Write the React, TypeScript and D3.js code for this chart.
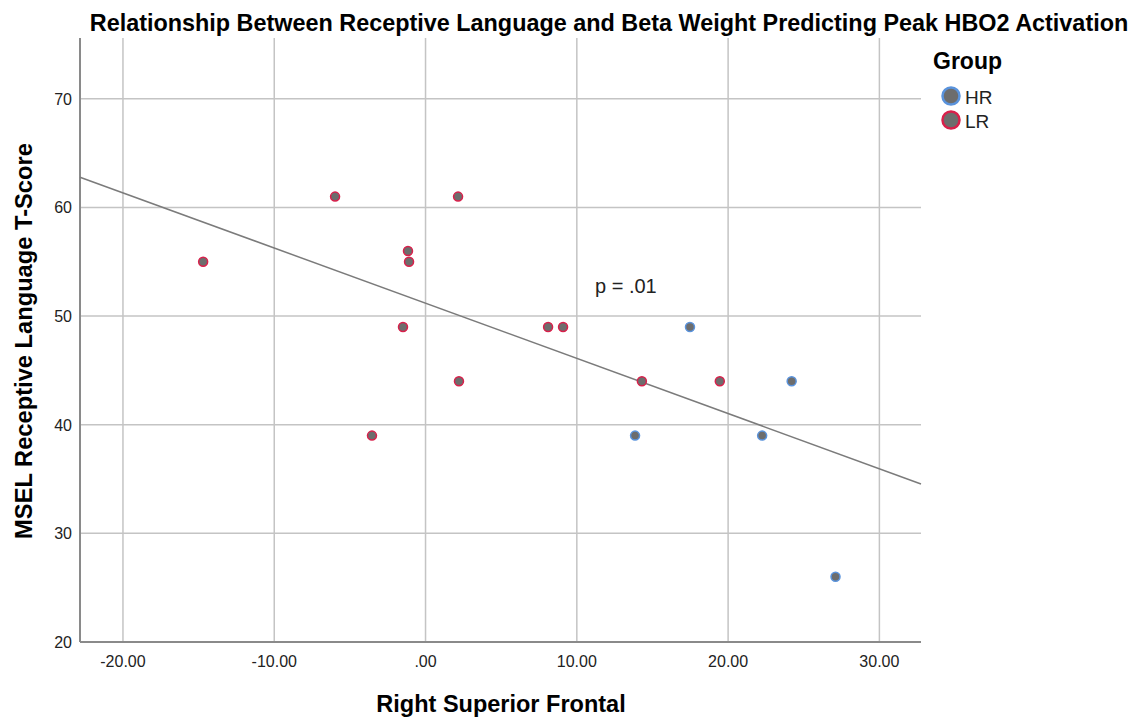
import React, { useEffect, useRef } from 'react';
import * as d3 from 'd3';

// values
const groups = ['HR', 'LR'];
const lrX = [-14.7, -5.98, 2.15, -1.16, -1.09, -1.49, 2.21, -3.54, 8.1, 9.09, 14.3, 19.45];
const lrY = [55, 61, 61, 56, 55, 49, 44, 39, 49, 49, 44, 44];
const hrX = [17.48, 13.85, 22.25, 24.2, 27.1];
const hrY = [49, 39, 39, 44, 26];
const xTicks = [-20, -10, 0, 10, 20, 30];
const yTicks = [20, 30, 40, 50, 60, 70];

const W = 1143;
const H = 717;
const FONT = '"Liberation Sans", Arial, sans-serif';

const fmtX = (v: number) => {
  const s = v.toFixed(2);
  if (s.startsWith('0')) return s.slice(1);
  return s;
};

const App = () => {
  const ref = useRef<SVGSVGElement>(null);

  useEffect(() => {
    if (!ref.current) return;
    const svg = d3.select(ref.current);
    svg.selectAll('*').remove();

    const left = 80, right = 921, top = 38, bottom = 642;

    const x = d3.scaleLinear().domain([-22.84, 32.75]).range([left, right]);
    const y = d3.scaleLinear().domain([20, 75.6]).range([bottom, top]);

    const pts = [
      ...lrX.map((v, i) => ({ x: v, y: lrY[i], g: 'LR' })),
      ...hrX.map((v, i) => ({ x: v, y: hrY[i], g: 'HR' })),
    ];

    const stroke: Record<string, string> = { HR: '#5a93dc', LR: '#d9204b' };

    // grid
    svg.append('g')
      .selectAll('line')
      .data(xTicks)
      .enter().append('line')
      .attr('x1', d => x(d)).attr('x2', d => x(d))
      .attr('y1', top).attr('y2', bottom)
      .attr('stroke', '#c4c4c4').attr('stroke-width', 1.5);

    svg.append('g')
      .selectAll('line')
      .data(yTicks.filter(d => d > 20))
      .enter().append('line')
      .attr('x1', left).attr('x2', right)
      .attr('y1', d => y(d)).attr('y2', d => y(d))
      .attr('stroke', '#c4c4c4').attr('stroke-width', 1.5);

    // axes lines
    svg.append('line')
      .attr('x1', left).attr('x2', left).attr('y1', top).attr('y2', bottom)
      .attr('stroke', '#8a8a8a').attr('stroke-width', 2);
    svg.append('line')
      .attr('x1', left).attr('x2', right).attr('y1', bottom).attr('y2', bottom)
      .attr('stroke', '#8a8a8a').attr('stroke-width', 2);

    // tick labels
    svg.append('g')
      .selectAll('text')
      .data(xTicks)
      .enter().append('text')
      .attr('x', d => x(d)).attr('y', 667)
      .attr('text-anchor', 'middle')
      .attr('font-family', FONT).attr('font-size', 16).attr('fill', '#222')
      .text(d => fmtX(d));

    svg.append('g')
      .selectAll('text')
      .data(yTicks)
      .enter().append('text')
      .attr('x', 72).attr('y', d => y(d) + 6)
      .attr('text-anchor', 'end')
      .attr('font-family', FONT).attr('font-size', 16).attr('fill', '#222')
      .text(d => d);

    // regression line (least squares on all points)
    const mx = d3.mean(pts, d => d.x) as number;
    const my = d3.mean(pts, d => d.y) as number;
    const sxy = d3.sum(pts, d => (d.x - mx) * (d.y - my));
    const sxx = d3.sum(pts, d => (d.x - mx) ** 2);
    const slope = sxy / sxx;
    const icpt = my - slope * mx;
    const [x0, x1] = x.domain();
    svg.append('line')
      .attr('x1', x(x0)).attr('y1', y(icpt + slope * x0))
      .attr('x2', x(x1)).attr('y2', y(icpt + slope * x1))
      .attr('stroke', '#7b7b7b').attr('stroke-width', 1.5);

    // points
    svg.append('g')
      .selectAll('circle')
      .data(pts)
      .enter().append('circle')
      .attr('cx', d => x(d.x)).attr('cy', d => y(d.y))
      .attr('r', 4.5)
      .attr('fill', '#6d6d6d')
      .attr('stroke', d => stroke[d.g])
      .attr('stroke-width', 1.5);

    // annotation
    svg.append('text')
      .attr('x', x(11.2)).attr('y', y(52.4) + 3)
      .attr('font-family', FONT).attr('font-size', 20).attr('fill', '#222')
      .text('p = .01');

    // titles
    svg.append('text')
      .attr('x', 609).attr('y', 31)
      .attr('text-anchor', 'middle')
      .attr('font-family', FONT).attr('font-size', 23.4).attr('font-weight', 'bold')
      .text('Relationship Between Receptive Language and Beta Weight Predicting Peak HBO2 Activation');

    svg.append('text')
      .attr('x', 501).attr('y', 712)
      .attr('text-anchor', 'middle')
      .attr('font-family', FONT).attr('font-size', 23.5).attr('font-weight', 'bold')
      .text('Right Superior Frontal');

    svg.append('text')
      .attr('transform', `translate(32,341) rotate(-90)`)
      .attr('text-anchor', 'middle')
      .attr('font-family', FONT).attr('font-size', 23.7).attr('font-weight', 'bold')
      .text('MSEL Receptive Language T-Score');

    // legend
    svg.append('text')
      .attr('x', 933).attr('y', 69)
      .attr('font-family', FONT).attr('font-size', 23).attr('font-weight', 'bold')
      .text('Group');

    const lg = svg.append('g')
      .selectAll('g')
      .data(groups)
      .enter().append('g')
      .attr('transform', (d, i) => `translate(951,${96 + i * 24})`);
    lg.append('circle')
      .attr('r', 8.5)
      .attr('fill', '#6d6d6d')
      .attr('stroke', d => stroke[d])
      .attr('stroke-width', 2.5);
    lg.append('text')
      .attr('x', 14).attr('y', 7.5)
      .attr('font-family', FONT).attr('font-size', 19).attr('fill', '#222')
      .text(d => d);
  }, []);

  return (
    <svg ref={ref} width={W} height={H} style={{ position: 'absolute', left: 0, top: 0, background: '#fff' }} />
  );
};

export default App;
